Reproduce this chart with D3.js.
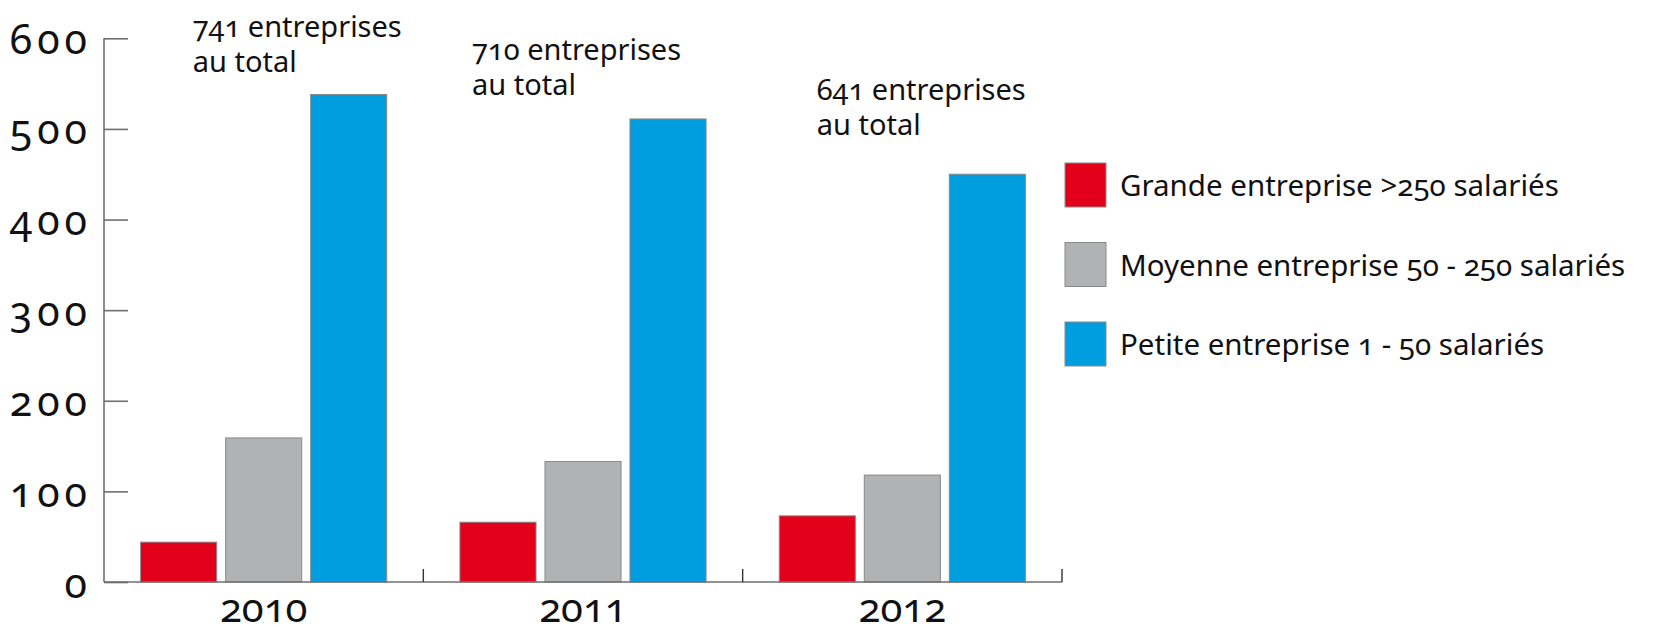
<!DOCTYPE html>
<html>
<head>
<meta charset="utf-8">
<script src="https://cdn.jsdelivr.net/npm/d3@7"></script>
<style>
  body { margin: 0; background: #fff; }
  svg { display: block; font-family: 'Noto Sans', sans-serif; font-feature-settings: 'onum' 1; fill: #111; }
</style>
</head>
<body>
<svg id="svg" width="1673" height="627"></svg>
<script>
const years = ['2010', '2011', '2012']
const series = ['Grande entreprise >250 salariés', 'Moyenne entreprise 50 - 250 salariés', 'Petite entreprise 1 - 50 salariés']
const grande = [44, 66, 73]
const moyenne = [159, 133, 118]
const petite = [538, 511, 450]
const totals = ['741', '710', '641']
const yTicks = [0, 100, 200, 300, 400, 500, 600]
const colors = ['#e2001a', '#b1b2b4', '#009ddf']

const values = [grande, moyenne, petite]
const rows = years.map((yr, i) => ({ year: yr, vals: values.map((s, j) => ({ key: series[j], value: s[i] })) }))

const svg = d3.select('#svg')

const x0 = d3.scaleBand()
    .domain(years)
    .range([104, 1062])

const x1 = d3.scaleBand()
    .domain(series)
    .range([36.6, x0.bandwidth() - 36.6])
    .paddingInner(0.105)

const y = d3.scaleLinear()
    .domain([0, 600])
    .range([582, 38.3])

const color = d3.scaleOrdinal(series, colors)

// bars
const group = svg.selectAll('g.year')
    .data(rows)
    .enter()
    .append('g')
    .attr('class', 'year')
    .attr('transform', d => `translate(${x0(d.year)}, 0)`)

group.selectAll('rect')
    .data(d => d.vals)
    .enter()
    .append('rect')
    .attr('x', d => x1(d.key))
    .attr('y', d => y(d.value))
    .attr('width', x1.bandwidth())
    .attr('height', d => y(0) - y(d.value))
    .attr('fill', d => color(d.key))
    .attr('stroke', '#8a8a8a')
    .attr('stroke-width', 1)

// y axis
const yAxis = svg.append('g')
    .attr('transform', 'translate(104, 0)')
    .call(d3.axisRight(y).tickValues(yTicks).tickSize(24).tickFormat(''))
yAxis.select('.domain').attr('stroke', '#6e6e6e').attr('stroke-width', 1.6).attr('d', `M0,${y(0)}V${y(600)}`)
yAxis.selectAll('.tick line').attr('stroke', '#6e6e6e').attr('stroke-width', 1.6)

svg.append('g')
    .selectAll('text')
    .data(yTicks)
    .enter()
    .append('text')
    .attr('x', 92)
    .attr('y', d => y(d) + 15.5)
    .attr('text-anchor', 'end')
    .style('font-size', '41px')
    .style('letter-spacing', '5px')
    .text(d => d)

// x axis
svg.append('line')
    .attr('x1', 104).attr('x2', 1062)
    .attr('y1', y(0)).attr('y2', y(0))
    .attr('stroke', '#6e6e6e')
    .attr('stroke-width', 1.6)

const seps = years.map(d => x0(d) + x0.bandwidth())
svg.selectAll('line.sep')
    .data(seps)
    .enter()
    .append('line')
    .attr('class', 'sep')
    .attr('x1', d => d).attr('x2', d => d)
    .attr('y1', y(0)).attr('y2', y(0) - 13)
    .attr('stroke', '#333')
    .attr('stroke-width', 1.4)

svg.append('g')
    .selectAll('text')
    .data(years)
    .enter()
    .append('text')
    .attr('x', d => x0(d) + x0.bandwidth() / 2)
    .attr('y', y(0) + 40)
    .attr('text-anchor', 'middle')
    .style('font-size', '40px')
    .text(d => d)

// totals above each group
const noteX = [192.7, 472, 816.7]
const noteY = [37, 60, 100]
const notes = svg.append('g')
    .selectAll('text')
    .data(totals)
    .enter()
    .append('text')
    .style('font-size', '29px')

notes.append('tspan')
    .attr('x', (d, i) => noteX[i])
    .attr('y', (d, i) => noteY[i])
    .text(d => d + ' entreprises')
notes.append('tspan')
    .attr('x', (d, i) => noteX[i])
    .attr('y', (d, i) => noteY[i] + 34.5)
    .text('au total')

// legend
const legend = svg.append('g')
    .attr('transform', 'translate(1065, 163)')

const item = legend.selectAll('g')
    .data(series)
    .enter()
    .append('g')
    .attr('transform', (d, i) => `translate(0, ${i * 79.5})`)

item.append('rect')
    .attr('width', 41)
    .attr('height', 44)
    .attr('fill', d => color(d))
    .attr('stroke', '#8a8a8a')
    .attr('stroke-width', 1)

item.append('text')
    .attr('x', 55)
    .attr('y', 33)
    .style('font-size', '29.5px')
    .text(d => d)
</script>
</body>
</html>
